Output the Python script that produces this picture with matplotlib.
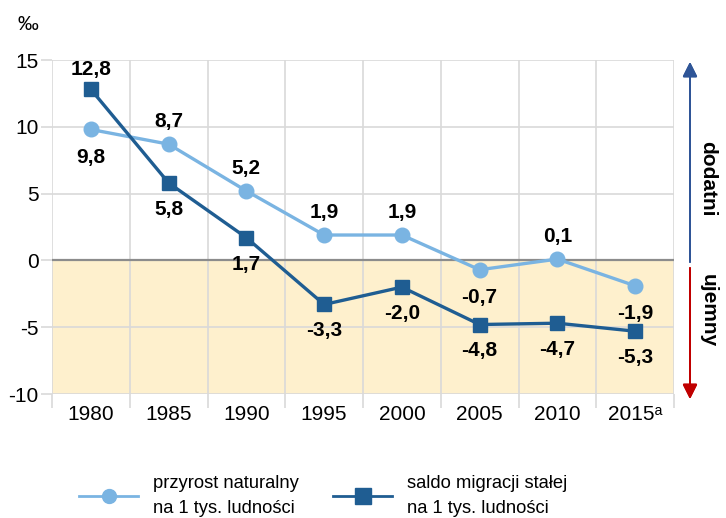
import matplotlib.pyplot as plt
from matplotlib.lines import Line2D

plt.rcParams['font.family'] = ['Liberation Sans', 'DejaVu Sans']
plt.rcParams['axes.unicode_minus'] = False

# data (per 1000 population)
years = ['1980', '1985', '1990', '1995', '2000', '2005', '2010', '2015ᵃ']
natural = [9.8, 8.7, 5.2, 1.9, 1.9, -0.7, 0.1, -1.9]
migration = [12.8, 5.8, 1.7, -3.3, -2.0, -4.8, -4.7, -5.3]
# label placement: +1 above the marker, -1 below
natural_pos = [-1, 1, 1, 1, 1, -1, 1, -1]
migration_pos = [1, -1, -1, -1, -1, -1, -1, -1]
y_ticks = [-10, -5, 0, 5, 10, 15]

light_blue = '#7ab4e2'
dark_blue = '#1f5d92'
grid_col = '#d9d9d9'

W, H = 726, 518
fig = plt.figure(figsize=(W / 100, H / 100), dpi=100)
ax = fig.add_axes([52 / W, 1 - 394 / H, (674 - 52) / W, (394 - 60) / H])

x = list(range(len(years)))

# negative area shading and zero line
ax.axhspan(-10, 0, color='#fef0cd', zorder=0.2, lw=0)
ax.axhline(0, color='#8c8c8c', lw=1.6, zorder=1)

ax.plot(x, natural, color=light_blue, lw=2.4, marker='o', ms=10.5, zorder=3)
ax.plot(x, migration, color=dark_blue, lw=2.4, marker='s', ms=10.5, zorder=4)

def fmt(v):
    return f'{v:.1f}'.replace('.', ',')

for xi, v, p in zip(x, natural, natural_pos):
    ax.annotate(fmt(v), (xi, v), xytext=(0, 16 if p > 0 else -20),
                textcoords='offset points', ha='center', va='center',
                fontsize=15, fontweight='bold', zorder=5)
for xi, v, p in zip(x, migration, migration_pos):
    ax.annotate(fmt(v), (xi, v), xytext=(0, 14 if p > 0 else -19),
                textcoords='offset points', ha='center', va='center',
                fontsize=15, fontweight='bold', zorder=5)

ax.set_xlim(-0.5, len(years) - 0.5)
ax.set_ylim(-10, 15)
ax.set_yticks(y_ticks)
ax.set_xticks(x)
ax.set_xticklabels(years)
ax.set_xticks([i - 0.5 for i in range(len(years) + 1)], minor=True)
ax.tick_params(axis='x', which='major', length=0, pad=8, labelsize=15)
ax.tick_params(axis='x', which='minor', length=10, color=grid_col, width=1.2)
ax.tick_params(axis='y', length=8, color=grid_col, width=1.2, labelsize=15, pad=1.5)
ax.set_axisbelow(True)
ax.grid(axis='y', which='major', color=grid_col, lw=1.2, zorder=0.5)
ax.grid(axis='x', which='minor', color=grid_col, lw=1.2, zorder=0.5)
for s in ax.spines.values():
    s.set_visible(False)

# unit
fig.text(28 / W, 1 - 25 / H, '‰', fontsize=15, ha='center', va='center')

# side arrows
fig.add_artist(plt.annotate('', xy=(690 / W, 1 - 62 / H), xytext=(690 / W, 1 - 262 / H),
                            xycoords='figure fraction', textcoords='figure fraction',
                            arrowprops=dict(arrowstyle='-|>', color='#2f5597', lw=1.4,
                                            mutation_scale=22, shrinkA=0, shrinkB=0)))
fig.add_artist(plt.annotate('', xy=(690 / W, 1 - 399 / H), xytext=(690 / W, 1 - 268 / H),
                            xycoords='figure fraction', textcoords='figure fraction',
                            arrowprops=dict(arrowstyle='-|>', color='#c00000', lw=1.4,
                                            mutation_scale=22, shrinkA=0, shrinkB=0)))
fig.text(708 / W, 1 - 179 / H, 'dodatni', rotation=-90, fontsize=15, fontweight='bold',
         ha='center', va='center')
fig.text(708 / W, 1 - 311 / H, 'ujemny', rotation=-90, fontsize=15, fontweight='bold',
         ha='center', va='center')

# legend
handles = [
    Line2D([], [], color=light_blue, lw=2, marker='o', ms=10),
    Line2D([], [], color=dark_blue, lw=2, marker='s', ms=11),
]
labels = ['przyrost naturalny\nna 1 tys. ludności', 'saldo migracji stałej\nna 1 tys. ludności']
leg = fig.legend(handles, labels, ncol=2, loc='center', bbox_to_anchor=(323 / W, 1 - 496 / H),
                 frameon=False, fontsize=13.2, handlelength=3.2, handletextpad=0.8,
                 columnspacing=1.9, labelspacing=0.2)
for t in leg.get_texts():
    t.set_linespacing(1.6)

fig.savefig('out.png', dpi=100)
